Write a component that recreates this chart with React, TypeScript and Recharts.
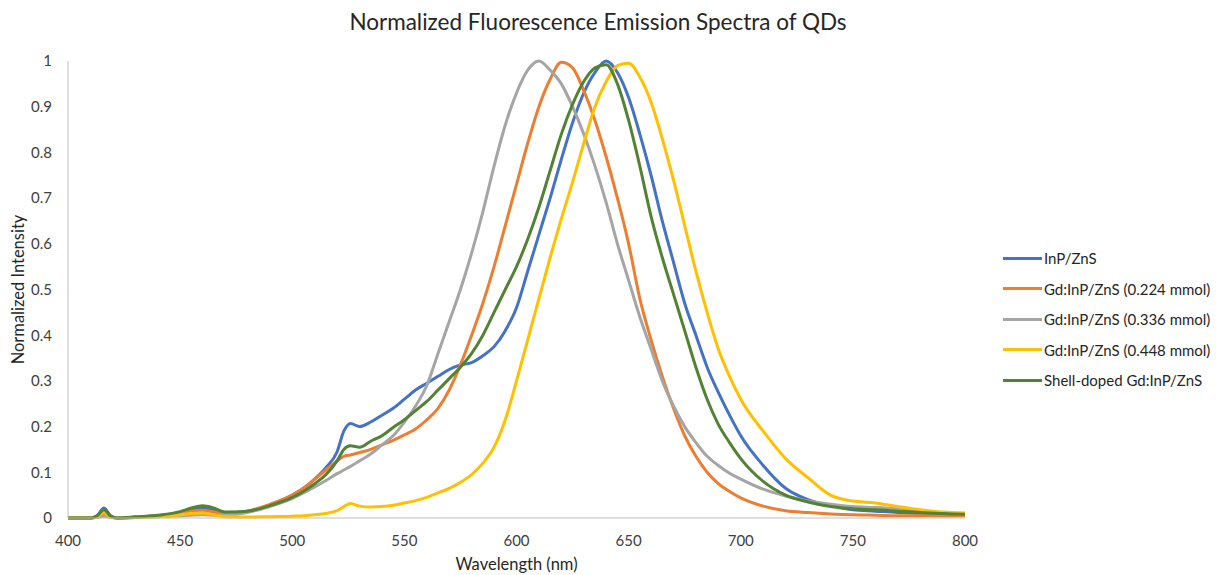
import { CartesianGrid, Legend, Line, LineChart, XAxis, YAxis } from "recharts";

const wavelengths = [
  400, 405, 410, 413, 416, 419, 422, 430, 440, 450, 455, 460, 465, 470, 480, 490, 500, 505, 510, 515,
  520, 523, 526, 530, 535, 540, 545, 550, 555, 560, 565, 570, 575, 580, 585, 590, 595, 600, 605, 610,
  615, 620, 625, 630, 635, 640, 645, 650, 655, 660, 665, 670, 675, 680, 685, 690, 695, 700, 710, 720,
  730, 740, 750, 760, 770, 780, 790, 800,
];

const inpZns = [
  0, 0, 0, 0.005, 0.022, 0.005, 0, 0.002, 0.005, 0.012, 0.018, 0.022, 0.017, 0.012, 0.015, 0.028, 0.05, 0.065, 0.085, 0.11,
  0.145, 0.19, 0.207, 0.2, 0.21, 0.225, 0.24, 0.26, 0.28, 0.295, 0.31, 0.325, 0.335, 0.34, 0.355, 0.375, 0.41, 0.46, 0.54, 0.62,
  0.7, 0.785, 0.865, 0.93, 0.975, 1.0, 0.975, 0.92, 0.84, 0.75, 0.65, 0.56, 0.47, 0.4, 0.33, 0.275, 0.225, 0.18, 0.115, 0.065,
  0.04, 0.027, 0.018, 0.015, 0.012, 0.01, 0.008, 0.007,
];

const gd224 = [
  0, 0, 0, 0.003, 0.01, 0.003, 0, 0.002, 0.005, 0.01, 0.015, 0.017, 0.013, 0.01, 0.015, 0.03, 0.05, 0.065, 0.085, 0.105,
  0.125, 0.135, 0.138, 0.143, 0.15, 0.16, 0.17, 0.182, 0.195, 0.215, 0.24, 0.28, 0.335, 0.4, 0.47, 0.55, 0.64, 0.73, 0.82, 0.9,
  0.96, 0.997, 0.985, 0.935, 0.87, 0.79, 0.7, 0.6, 0.48, 0.39, 0.31, 0.24, 0.18, 0.135, 0.1, 0.075, 0.058, 0.044, 0.026, 0.016,
  0.012, 0.009, 0.007, 0.006, 0.005, 0.005, 0.005, 0.005,
];

const gd336 = [
  0, 0, 0, 0.001, 0.004, 0.001, 0, 0.001, 0.003, 0.005, 0.006, 0.007, 0.006, 0.006, 0.012, 0.025, 0.043, 0.055, 0.068, 0.082,
  0.097, 0.105, 0.113, 0.125, 0.14, 0.16, 0.18, 0.21, 0.245, 0.29, 0.36, 0.43, 0.5, 0.58, 0.67, 0.77, 0.86, 0.93, 0.98, 1.0,
  0.98, 0.95, 0.9, 0.84, 0.77, 0.69, 0.6, 0.52, 0.44, 0.37, 0.3, 0.245, 0.2, 0.165, 0.135, 0.115, 0.098, 0.085, 0.063, 0.048,
  0.037, 0.03, 0.025, 0.023, 0.02, 0.015, 0.011, 0.008,
];

const gd448 = [
  0, 0, 0, 0.003, 0.012, 0.002, 0, 0.001, 0.003, 0.007, 0.01, 0.011, 0.007, 0.003, 0.002, 0.003, 0.004, 0.005, 0.007, 0.01,
  0.016, 0.025, 0.032, 0.026, 0.024, 0.025, 0.028, 0.033, 0.038, 0.045, 0.055, 0.065, 0.078, 0.095, 0.12, 0.155, 0.215, 0.3, 0.39, 0.48,
  0.57, 0.655, 0.735, 0.82, 0.9, 0.955, 0.99, 0.995, 0.965, 0.91, 0.83, 0.74, 0.64, 0.54, 0.45, 0.37, 0.31, 0.26, 0.19, 0.13,
  0.088, 0.05, 0.037, 0.033, 0.025, 0.018, 0.013, 0.011,
];

const shellDoped = [
  0, 0, 0, 0.005, 0.018, 0.004, 0, 0.002, 0.006, 0.014, 0.022, 0.027, 0.022, 0.013, 0.015, 0.027, 0.045, 0.058, 0.075, 0.095,
  0.125, 0.15, 0.158, 0.155, 0.168, 0.18, 0.198, 0.215, 0.235, 0.255, 0.28, 0.305, 0.33, 0.36, 0.4, 0.45, 0.5, 0.55, 0.61, 0.68,
  0.76, 0.84, 0.905, 0.955, 0.985, 0.992, 0.95, 0.87, 0.77, 0.66, 0.57, 0.49, 0.41, 0.33, 0.26, 0.205, 0.165, 0.13, 0.08, 0.05,
  0.035, 0.025, 0.02, 0.018, 0.015, 0.012, 0.01, 0.008,
];

const xTicks = [400, 450, 500, 550, 600, 650, 700, 750, 800];
const yTicks = [0, 0.1, 0.2, 0.3, 0.4, 0.5, 0.6, 0.7, 0.8, 0.9, 1];

const series = [
  { key: "inp", name: "InP/ZnS", color: "#4472C4", values: inpZns },
  { key: "gd224", name: "Gd:InP/ZnS (0.224 mmol)", color: "#ED7D31", values: gd224 },
  { key: "gd336", name: "Gd:InP/ZnS (0.336 mmol)", color: "#A5A5A5", values: gd336 },
  { key: "gd448", name: "Gd:InP/ZnS (0.448 mmol)", color: "#FFC000", values: gd448 },
  { key: "shell", name: "Shell-doped Gd:InP/ZnS", color: "#548235", values: shellDoped },
];

const data = wavelengths.map((w, i) => {
  const row: Record<string, number> = { w };
  series.forEach((s) => (row[s.key] = s.values[i]));
  return row;
});

const FONT = "Lato, 'Open Sans', sans-serif";

function LegendBox() {
  return (
    <div style={{ width: 226, fontFamily: FONT, fontSize: 15, color: "#262626" }}>
      {series.map((s) => (
        <div key={s.key} style={{ display: "flex", alignItems: "center", height: 30.5, paddingLeft: 13 }}>
          <span style={{ width: 39, height: 3, background: s.color, display: "inline-block" }} />
          <span style={{ marginLeft: 2, whiteSpace: "nowrap" }}>{s.name}</span>
        </div>
      ))}
    </div>
  );
}

export default function App() {
  return (
    <div style={{ position: "fixed", left: 0, top: 0, width: 1216, height: 575, background: "#fff" }}>
      <LineChart width={1216} height={575} data={data} margin={{ top: 61, right: 25, bottom: 27, left: 8 }}>
        <CartesianGrid horizontal={false} vertical={false} />
        <text x={598} y={30} textAnchor="middle" fontFamily={FONT} fontSize={22.5} fill="#262626">
          Normalized Fluorescence Emission Spectra of QDs
        </text>
        <XAxis
          dataKey="w"
          type="number"
          domain={[400, 800]}
          ticks={xTicks}
          tickLine={false}
          height={30}
          stroke="#bfbfbf"
          tick={{ fill: "#404040", fontSize: 15, fontFamily: FONT }}
          tickMargin={11}
          label={{ value: "Wavelength (nm)", position: "insideBottom", offset: -22, fill: "#262626", fontSize: 16.5, fontFamily: FONT }}
        />
        <YAxis
          type="number"
          domain={[0, 1]}
          ticks={yTicks}
          tickLine={false}
          width={60}
          stroke="#bfbfbf"
          tick={{ fill: "#404040", fontSize: 15, fontFamily: FONT }}
          tickMargin={10}
          label={{ value: "Normalized Intensity", angle: -90, position: "insideLeft", offset: 2, dx: 8, fill: "#262626", fontSize: 16.5, fontFamily: FONT, style: { textAnchor: "middle" } }}
        />
        <Legend
          layout="vertical"
          align="right"
          verticalAlign="middle"
          content={() => <LegendBox />}
          wrapperStyle={{ left: 990, top: 243, right: "auto" }}
        />
        {series.map((s) => (
          <Line
            key={s.key}
            dataKey={s.key}
            name={s.name}
            type="monotone"
            stroke={s.color}
            strokeWidth={3}
            dot={false}
            isAnimationActive={false}
          />
        ))}
      </LineChart>
    </div>
  );
}
